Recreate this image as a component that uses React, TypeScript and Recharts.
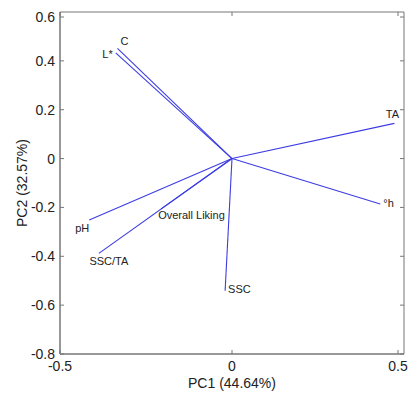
import React from 'react';
import { ScatterChart, Scatter, XAxis, YAxis, ReferenceArea } from 'recharts';

// PCA loadings
const VARIABLES = ['C', 'L*', 'TA', '°h', 'SSC', 'pH', 'SSC/TA', 'Overall Liking'];
const PC1 = [-0.333, -0.338, 0.472, 0.431, -0.02, -0.415, -0.387, -0.206];
const PC2 = [0.451, 0.433, 0.144, -0.186, -0.541, -0.251, -0.388, -0.206];

const X_TICKS = [-0.5, 0, 0.5];
const Y_TICKS = [-0.8, -0.6, -0.4, -0.2, 0, 0.2, 0.4, 0.6];

const X_LABEL = 'PC1 (44.64%)';
const Y_LABEL = 'PC2 (32.57%)';

// where each label sits relative to the tip of its vector (px)
const LABEL_OFFSET: Record<string, [number, number, 'start' | 'middle' | 'end']> = {
  C: [3, -7, 'start'],
  'L*': [-3, 1, 'end'],
  TA: [-2, -9, 'middle'],
  '°h': [3, -1, 'start'],
  SSC: [3, -2, 'start'],
  pH: [-7, 8, 'middle'],
  'SSC/TA': [10, 8, 'middle'],
  'Overall Liking': [-3, 6, 'start'],
};

const FONT = '"Liberation Sans", Arial, sans-serif';
const LINE_COLOR = '#3c3ce4';
const FRAME = '#777';
const TEXT = '#222';

// chart box; plot size follows from margins + axis sizes
const W = 400;
const H = 391;
const MARGIN = { top: 4, right: 4, bottom: 0, left: 0 };
const X_AXIS_H = 45;
const Y_AXIS_W = 52;
const PLOT_W = W - MARGIN.left - MARGIN.right - Y_AXIS_W;
const PLOT_H = H - MARGIN.top - MARGIN.bottom - X_AXIS_H;
const TICK_LEN = 4;

const vectors = VARIABLES.map((name, i) => ({
  name,
  data: [
    { x: 0, y: 0 },
    { x: PC1[i], y: PC2[i], name },
  ],
}));

function TipLabel(props: any) {
  const { cx, cy, payload } = props;
  if (!payload || !payload.name) return <g />;
  const [dx, dy, anchor] = LABEL_OFFSET[payload.name] || [3, 0, 'start'];
  return (
    <text
      x={cx + dx}
      y={cy + dy}
      textAnchor={anchor}
      dominantBaseline="central"
      fontSize={11}
      fontFamily={FONT}
      fill={TEXT}
    >
      {payload.name}
    </text>
  );
}

// MATLAB style: label outside, tick marks inward on both opposite sides
function XTick(props: any) {
  const { x, y, payload } = props;
  return (
    <g>
      <line x1={x} x2={x} y1={y} y2={y - TICK_LEN} stroke={FRAME} />
      <line x1={x} x2={x} y1={y - PLOT_H} y2={y - PLOT_H + TICK_LEN} stroke={FRAME} />
      <text
        x={x}
        y={y + 7}
        dy="0.72em"
        textAnchor="middle"
        fontSize={14}
        fontFamily={FONT}
        fill={TEXT}
      >
        {payload.value}
      </text>
    </g>
  );
}

function YTick(props: any) {
  const { x, y, payload } = props;
  return (
    <g>
      <line x1={x} x2={x + TICK_LEN} y1={y} y2={y} stroke={FRAME} />
      <line x1={x + PLOT_W} x2={x + PLOT_W - TICK_LEN} y1={y} y2={y} stroke={FRAME} />
      <text
        x={x - 5}
        y={y}
        dy="0.36em"
        textAnchor="end"
        fontSize={14}
        fontFamily={FONT}
        fill={TEXT}
      >
        {payload.value}
      </text>
    </g>
  );
}

function YTitle(props: any) {
  const { viewBox } = props;
  const cx = viewBox.x + 14;
  const cy = viewBox.y + viewBox.height / 2;
  return (
    <text
      x={cx}
      y={cy}
      transform={`rotate(-90, ${cx}, ${cy})`}
      textAnchor="middle"
      dominantBaseline="central"
      fontSize={14}
      fontFamily={FONT}
      fill={TEXT}
    >
      {Y_LABEL}
    </text>
  );
}

function XTitle(props: any) {
  const { viewBox } = props;
  const cx = viewBox.x + viewBox.width / 2;
  const cy = viewBox.y + 29;
  return (
    <text
      x={cx}
      y={cy}
      textAnchor="middle"
      dominantBaseline="central"
      fontSize={14}
      fontFamily={FONT}
      fill={TEXT}
    >
      {X_LABEL}
    </text>
  );
}

export default function App() {
  return (
    <div style={{ width: W, height: H, background: '#fff' }}>
      <ScatterChart width={W} height={H} margin={MARGIN}>
        <XAxis
          type="number"
          dataKey="x"
          domain={[-0.5, 0.5]}
          ticks={X_TICKS}
          allowDataOverflow
          height={X_AXIS_H}
          tickLine={false}
          tickSize={0}
          tickMargin={0}
          tick={<XTick />}
          axisLine={{ stroke: FRAME }}
          label={<XTitle />}
        />
        <YAxis
          type="number"
          dataKey="y"
          domain={[-0.8, 0.6]}
          ticks={Y_TICKS}
          allowDataOverflow
          width={Y_AXIS_W}
          tickLine={false}
          tickSize={0}
          tickMargin={0}
          tick={<YTick />}
          axisLine={{ stroke: FRAME }}
          label={<YTitle />}
        />
        <ReferenceArea
          x1={-0.5}
          x2={0.5}
          y1={-0.8}
          y2={0.6}
          fill="none"
          fillOpacity={0}
          stroke={FRAME}
          strokeOpacity={1}
        />
        {vectors.map((v) => (
          <Scatter
            key={v.name}
            name={v.name}
            data={v.data}
            line={{ stroke: LINE_COLOR, strokeWidth: 1.1 }}
            shape={<TipLabel />}
            isAnimationActive={false}
          />
        ))}
      </ScatterChart>
    </div>
  );
}
